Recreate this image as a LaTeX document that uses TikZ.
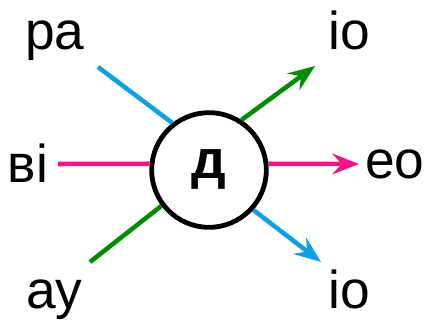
\documentclass[tikz,border=0pt]{standalone}
\usepackage{fontspec}
\setmainfont{Liberation Sans}
\usetikzlibrary{arrows.meta}

\definecolor{lblue}{RGB}{14,160,228}
\definecolor{lpink}{RGB}{245,20,135}
\definecolor{lgreen}{RGB}{0,140,0}

\begin{document}
\begin{tikzpicture}[
  x=0.75pt, y=-0.75pt,
  font=\fontsize{40}{48}\selectfont, >={Stealth[length=20pt,width=15.5pt,inset=7pt]},
  lbl/.style={anchor=base, inner sep=0pt},
  hub/.style={circle, draw=black, line width=3.6pt, minimum size=86pt, inner sep=0pt,
              font=\fontsize{41}{48}\selectfont\bfseries},
  ln/.style={line width=3.4pt},
]
\useasboundingbox (0,0) rectangle (425,321);

% central node
\node[hub] (d) at (209,170) {д};

% labels
\node[lbl] (ra) at (55,50) {ра};
\node[lbl] (vi) at (28,182) {ві};
\node[lbl] (au) at (54,308) {ау};
\node[lbl] (io1) at (349,50) {іо};
\node[lbl] (eo) at (395,178) {ео};
\node[lbl] (io2) at (349,308) {іо};

% free ends of the connectors
\coordinate (raend) at (98,67);
\coordinate (viend) at (58,164);
\coordinate (auend) at (90,262);
\coordinate (io1tip) at (315,66);
\coordinate (eotip) at (359,164);
\coordinate (io2tip) at (321,262);

% inputs
\draw[ln, lblue] (raend) -- (d.128);
\draw[ln, lpink] (viend) -- (d.174);
\draw[ln, lgreen] (auend) -- (d.217);

% outputs
\draw[ln, lgreen, ->] (d.57) -- (io1tip);
\draw[ln, lpink, ->] (d.6) -- (eotip);
\draw[ln, lblue, ->] (d.318) -- (io2tip);
\end{tikzpicture}
\end{document}
